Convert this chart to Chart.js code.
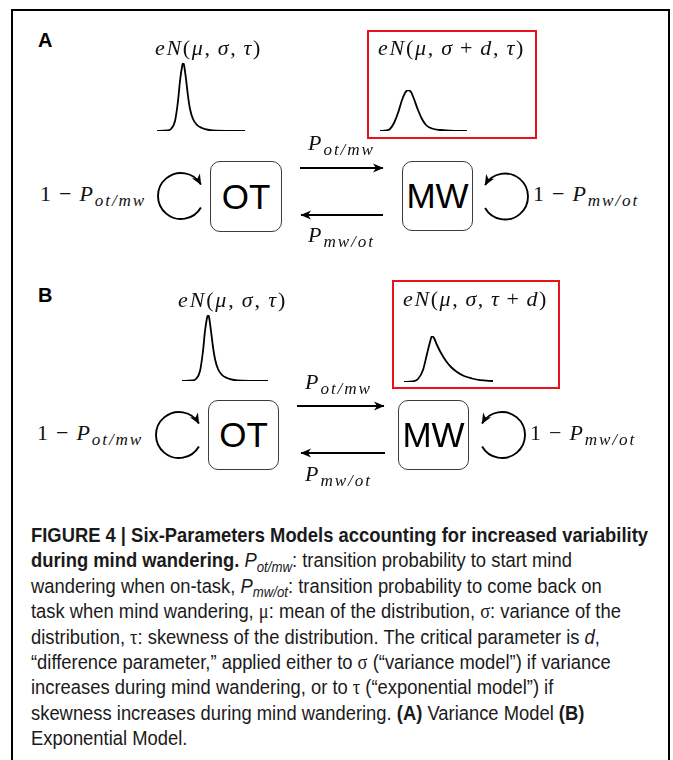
<!DOCTYPE html>
<html><head><meta charset="utf-8">
<script src="https://cdn.jsdelivr.net/npm/chart.js@4.4.1/dist/chart.umd.min.js"></script>
<style>
html,body{margin:0;padding:0;background:#fff;}
#page{position:relative;width:673px;height:760px;overflow:hidden;background:#fff;}
.frame{position:absolute;left:11px;top:9px;width:655px;height:800px;border:2px solid #000;}
.lab{position:absolute;white-space:nowrap;line-height:1.2;}
.m{font-family:"Liberation Serif","DejaVu Serif",serif;color:#111;}
.sb{position:relative;top:0.3em;font-size:0.78em;font-style:italic;}
.panel{font-family:"Liberation Sans",Arial,sans-serif;font-weight:bold;font-size:20px;}
.box{position:absolute;border:1.4px solid #3c3c3c;border-radius:10px;box-sizing:border-box;font-family:"Liberation Sans",Arial,sans-serif;font-size:35px;display:flex;align-items:center;justify-content:center;color:#000;}
.red{position:absolute;border:2px solid #e8131b;box-sizing:border-box;}
.cap{position:absolute;white-space:nowrap;font-family:"Liberation Sans Narrow","Arial Narrow","Liberation Sans",Arial,sans-serif;font-size:20.5px;line-height:1.2;color:#1a1a1a;transform-origin:0 0;}
.g{font-family:"Liberation Serif","DejaVu Serif",serif;}
.cs{font-size:0.72em;position:relative;top:0.3em;font-style:italic;}
canvas{position:absolute;}
svg{position:absolute;left:0;top:0;}
</style>
</head><body>
<div id="page">
<div class="frame"></div>
<svg id="arrows" width="673" height="760"></svg>
</div>
<script>
// ---------------- DATA ----------------
// Panel letters and state names
const panelLabels = ['A', 'B'];
const stateLabels = ['OT', 'MW'];
// ex-Gaussian density shapes, x = response time (arbitrary units), y = density (arbitrary units)
const curveA_OT_x = [0, 10, 14, 18, 21, 23, 25, 26, 27, 29, 31, 33, 36, 40, 45, 52, 60, 88];
const curveA_OT_y = [0, 0.5, 2, 10, 30, 50, 64, 68, 66, 52, 35, 22, 12, 6, 3, 1, 0.3, 0];
const curveA_MW_x = [0, 6, 10, 14, 18, 22, 25, 28, 31, 34, 38, 42, 46, 52, 60, 70, 87];
const curveA_MW_y = [0, 0.5, 2, 8, 18, 31, 38, 41, 39, 32, 21, 12, 6, 2.5, 1, 0.3, 0];
const curveB_OT_x = [0, 10, 14, 18, 21, 23, 25, 26, 27, 29, 31, 33, 36, 40, 45, 52, 60, 86];
const curveB_OT_y = [0, 0.5, 2, 10, 30, 50, 63, 66, 64, 50, 34, 22, 12, 6, 3, 1, 0.3, 0];
const curveB_MW_x = [0, 8, 14, 19, 23, 26, 28, 30, 33, 37, 42, 47, 53, 60, 68, 76, 89];
const curveB_MW_y = [0, 0.5, 3, 12, 28, 40, 46, 44, 37, 29, 21, 15, 10, 6, 3.5, 1.8, 1];
// ----------------------------------------------------------------

const page = document.getElementById('page');

function drawCurve(xs, ys, x0, baseline) {
  const pad = 3;
  const xmax = xs[xs.length - 1];
  const ymax = Math.max(...ys);
  const cv = document.createElement('canvas');
  cv.width = xmax + 2 * pad; cv.height = ymax + 2 * pad;
  cv.style.left = (x0 - pad) + 'px';
  cv.style.top = (baseline - ymax - pad) + 'px';
  page.appendChild(cv);
  new Chart(cv.getContext('2d'), {
    type: 'line',
    data: { datasets: [{ data: xs.map((x, i) => ({ x: x, y: ys[i] })), borderColor: '#000', borderWidth: 1.8,
      pointRadius: 0, cubicInterpolationMode: 'monotone', fill: false }] },
    options: { responsive: false, animation: false, events: [], layout: { padding: pad },
      scales: { x: { type: 'linear', min: 0, max: xmax, display: false }, y: { min: 0, max: ymax, display: false } },
      plugins: { legend: { display: false }, tooltip: { enabled: false } } }
  });
}

// place text: fixed font size, letter-spacing fitted to target width, baseline aligned
function place(html, cls, left, baseline, width, fontSize) {
  const d = document.createElement('div');
  d.className = 'lab ' + cls;
  d.innerHTML = html + '<span class="blm" style="display:inline-block;width:0;height:0;vertical-align:baseline"></span>';
  d.style.left = left + 'px'; d.style.top = '0px';
  if (fontSize) d.style.fontSize = fontSize + 'px';
  page.appendChild(d);
  if (width) {
    const w = d.getBoundingClientRect().width;
    const n = d.textContent.length;
    d.style.letterSpacing = ((width - w) / n) + 'px';
  }
  const bl = d.querySelector('.blm').getBoundingClientRect().top - page.getBoundingClientRect().top;
  d.style.top = (baseline - bl) + 'px';
  return d;
}

function box(text, l, t, w, h) {
  const d = document.createElement('div');
  d.className = 'box'; d.textContent = text;
  Object.assign(d.style, { left: l + 'px', top: t + 'px', width: w + 'px', height: h + 'px' });
  page.appendChild(d);
}
function redBox(l, t, w, h) {
  const d = document.createElement('div');
  d.className = 'red';
  Object.assign(d.style, { left: l + 'px', top: t + 'px', width: w + 'px', height: h + 'px' });
  page.appendChild(d);
}

const TS = '&#8201;';
const T1 = '<i>e</i><i>N</i>(<i>μ</i>,' + TS + '<i>σ</i>,' + TS + '<i>τ</i>)';
const T2a = '<i>e</i><i>N</i>(<i>μ</i>,' + TS + '<i>σ</i>' + TS + '+' + TS + '<i>d</i>,' + TS + '<i>τ</i>)';
const T2b = '<i>e</i><i>N</i>(<i>μ</i>,' + TS + '<i>σ</i>,' + TS + '<i>τ</i>' + TS + '+' + TS + '<i>d</i>)';
const Pom = '<i>P</i><span class="sb">ot/mw</span>';
const Pmo = '<i>P</i><span class="sb">mw/ot</span>';
const OneP1 = '1' + TS + '−' + TS + Pom;
const OneP2 = '1' + TS + '−' + TS + Pmo;

// SVG arrows and loops
const svg = document.getElementById('arrows');
svg.innerHTML = `
<defs><marker id="ah" viewBox="-11 -6 12 12" refX="0" refY="0" markerWidth="12" markerHeight="12" markerUnits="userSpaceOnUse" orient="auto">
<path d="M0.5,0 L-10,-4.6 L-7,0 L-10,4.6 Z" fill="#000"/></marker></defs>`;
function arrowPath(d) {
  const p = document.createElementNS('http://www.w3.org/2000/svg', 'path');
  p.setAttribute('d', d); p.setAttribute('fill', 'none'); p.setAttribute('stroke', '#000');
  p.setAttribute('stroke-width', '1.9'); p.setAttribute('marker-end', 'url(#ah)');
  svg.appendChild(p);
}
function loopLeft(cx, cy, r) { // gap on the right, arrow at upper right
  const a = Math.PI / 6;
  arrowPath(`M${cx + r * Math.cos(a)},${cy + r * Math.sin(a)} A${r},${r} 0 1 1 ${cx + r * Math.cos(a)},${cy - r * Math.sin(a)}`);
}
function loopRight(cx, cy, r) { // gap on the left, arrow at upper left
  const a = Math.PI / 6;
  arrowPath(`M${cx - r * Math.cos(a)},${cy + r * Math.sin(a)} A${r},${r} 0 1 0 ${cx - r * Math.cos(a)},${cy - r * Math.sin(a)}`);
}

// ---- Panel A ----
drawCurve(curveA_OT_x, curveA_OT_y, 157, 131);
drawCurve(curveA_MW_x, curveA_MW_y, 380, 131);
redBox(367, 30, 170, 109);
box(stateLabels[0], 210, 161, 72, 71);
box(stateLabels[1], 402, 161, 71, 70);
arrowPath('M300,168 H383');
arrowPath('M383,215 H301');
loopLeft(181, 196, 23);
loopRight(505, 196.5, 23);

// ---- Panel B ----
drawCurve(curveB_OT_x, curveB_OT_y, 182, 381);
drawCurve(curveB_MW_x, curveB_MW_y, 404, 382);
redBox(392, 280, 168, 109);
box(stateLabels[0], 208, 400, 71, 70);
box(stateLabels[1], 398, 400, 71, 70);
arrowPath('M297,406 H384');
arrowPath('M385,453 H301');
loopLeft(179, 435, 23);
loopRight(502, 435, 23);

function texts() {
  place(panelLabels[0], 'panel', 38, 47);
  place(panelLabels[1], 'panel', 38, 302);
  place(T1, 'm', 155, 55, 107, 22);
  place(T2a, 'm', 378, 55, 147, 22);
  place(Pom, 'm', 308, 150, 67, 22);
  place(Pmo, 'm', 308, 242, 67, 22);
  place(OneP1, 'm', 40, 201, 106, 22);
  place(OneP2, 'm', 533, 201, 106, 22);
  place(T1, 'm', 178, 307, 109, 22);
  place(T2b, 'm', 403, 306, 145, 22);
  place(Pom, 'm', 305, 389, 67, 22);
  place(Pmo, 'm', 305, 481, 67, 22);
  place(OneP1, 'm', 37, 440, 106, 22);
  place(OneP2, 'm', 530, 440, 106, 22);

  const capLines = [
    '<b>FIGURE 4 | Six-Parameters Models accounting for increased variability</b>',
    '<b>during mind wandering.</b> <i>P</i><span class="cs">ot/mw</span>: transition probability to start mind',
    'wandering when on-task, <i>P</i><span class="cs">mw/ot</span>: transition probability to come back on',
    'task when mind wandering, <span class="g">μ</span>: mean of the distribution, <span class="g">σ</span>: variance of the',
    'distribution, <span class="g">τ</span>: skewness of the distribution. The critical parameter is <i>d</i>,',
    '“difference parameter,” applied either to <span class="g">σ</span> (“variance model”) if variance',
    'increases during mind wandering, or to <span class="g">τ</span> (“exponential model”) if',
    'skewness increases during mind wandering. <b>(A)</b> Variance Model <b>(B)</b>',
    'Exponential Model.'
  ];
  const els = capLines.map((h, i) => {
    const d = place(h, 'cap', 31, 542 + i * 25.4);
    d.classList.remove('lab');
    return d;
  });
  const w0 = els[0].getBoundingClientRect().width;
  const s = 617 / w0;
  els.forEach(d => d.style.transform = 'scaleX(' + s + ')');
}
if (document.fonts && document.fonts.ready) document.fonts.ready.then(texts); else texts();
</script>
</body></html>
